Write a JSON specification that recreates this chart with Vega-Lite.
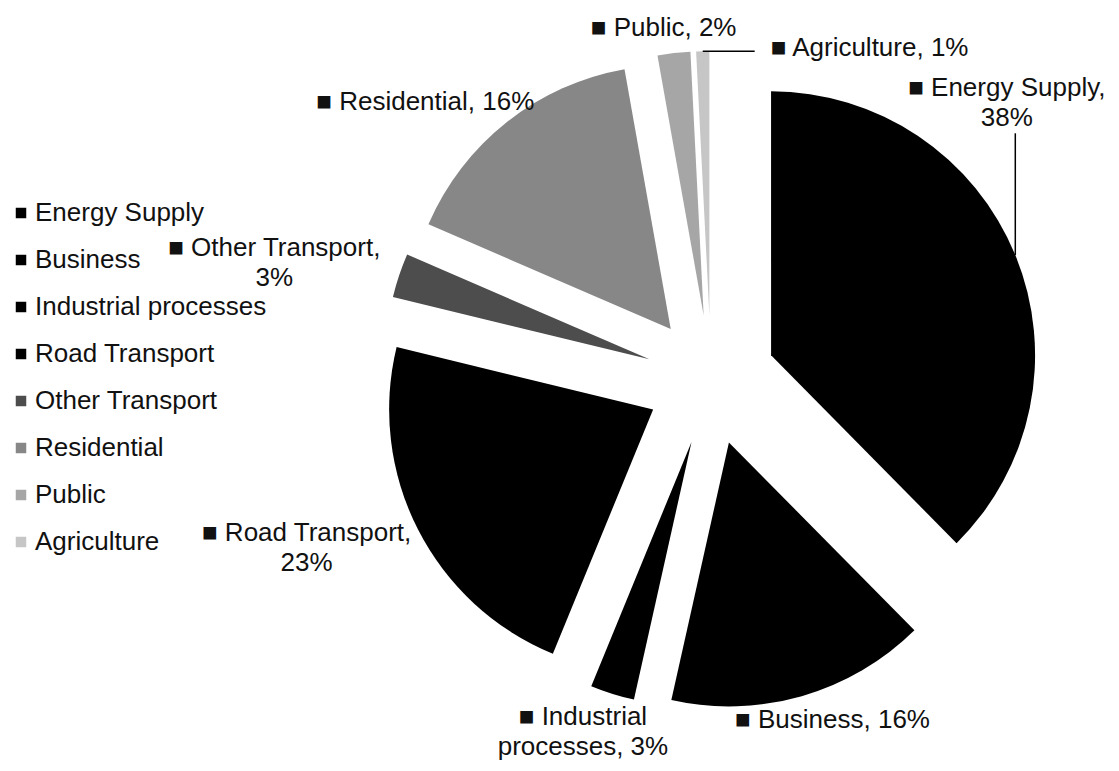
{
  "$schema": "https://vega.github.io/schema/vega-lite/v6.json",
  "width": 1119,
  "height": 771,
  "padding": 0,
  "autosize": {"type": "none"},
  "background": "white",
  "config": {"view": {"stroke": null}, "font": "Liberation Sans"},
  "data": {
    "values": [
      {"sector": "Energy Supply", "value": 37.6, "label": "Energy Supply,\n38%"},
      {"sector": "Business", "value": 15.9, "label": "Business, 16%"},
      {"sector": "Industrial processes", "value": 2.7, "label": "Industrial\nprocesses, 3%"},
      {"sector": "Road Transport", "value": 22.6, "label": "Road Transport,\n23%"},
      {"sector": "Other Transport", "value": 2.7, "label": "Other Transport,\n3%"},
      {"sector": "Residential", "value": 15.7, "label": "Residential, 16%"},
      {"sector": "Public", "value": 2.0, "label": "Public, 2%"},
      {"sector": "Agriculture", "value": 0.8, "label": "Agriculture, 1%"}
    ]
  },
  "transform": [
    {"joinaggregate": [{"op": "sum", "field": "value", "as": "total"}]},
    {"window": [{"op": "row_number", "as": "idx"}]},
    {"window": [{"op": "sum", "field": "value", "as": "cum"}], "sort": [{"field": "idx"}], "frame": [null, 0]},
    {"calculate": "(datum.cum - datum.value) / datum.total * 100", "as": "t0"},
    {"calculate": "datum.cum / datum.total * 100", "as": "t1"},
    {"calculate": "PI * (datum.t0 + datum.t1) / 100", "as": "am"},
    {"window": [{"op": "lag", "field": "am", "as": "prevAm"}], "sort": [{"field": "idx"}]},
    {"calculate": "isValid(datum.prevAm) && datum.am - datum.prevAm < 0.47 ? datum.prevAm + 0.47 : datum.am", "as": "la0"},
    {"calculate": "'■ ' + datum.label", "as": "txt"},
    {"calculate": "split(datum.txt, '\\n')", "as": "lines"},
    {"calculate": "max(length(datum.lines[0]), length(datum.lines) > 1 ? length(datum.lines[1]) : 0) * 0.0256", "as": "hw"},
    {"calculate": "length(datum.lines) * 0.0568", "as": "hh"},
    {"calculate": "(1.53 - datum.hw) / (1.284 + datum.hw)", "as": "rb"},
    {"calculate": "-(2.68 - datum.hw) / (1.284 + datum.hw)", "as": "lb"},
    {"calculate": "sin(datum.la0) > datum.rb ? (cos(datum.la0) >= 0 ? asin(datum.rb) : PI - asin(datum.rb)) : (sin(datum.la0) < datum.lb ? (cos(datum.la0) >= 0 ? asin(datum.lb) : PI - asin(datum.lb)) : datum.la0)", "as": "la"},
    {"calculate": "0.246 * sin(datum.am)", "as": "ox"},
    {"calculate": "0.246 * cos(datum.am)", "as": "oy"},
    {"calculate": "(1.284 + datum.hw) * sin(datum.la)", "as": "cx"},
    {"calculate": "(1.284 + datum.hh) * cos(datum.la)", "as": "cy"},
    {"calculate": "datum.cy + (length(datum.lines) - 1) * 0.0568", "as": "ty"},
    {"calculate": "1.246 * sin(datum.am)", "as": "sx"},
    {"calculate": "1.246 * cos(datum.am)", "as": "sy"},
    {"calculate": "clamp(datum.sx, datum.cx - datum.hw, datum.cx + datum.hw)", "as": "ex2"},
    {"calculate": "clamp(datum.sy, datum.cy - datum.hh, datum.cy + datum.hh)", "as": "ey2"}
  ],
  "layer": [
    {
      "mark": {"type": "arc", "outerRadius": 264, "strokeWidth": 0},
      "encoding": {
        "theta": {"field": "t0", "type": "quantitative", "scale": {"domain": [0, 100]}, "stack": null},
        "theta2": {"field": "t1"},
        "x": {"field": "ox", "type": "quantitative", "scale": {"domain": [-1, 1], "range": [447, 975], "nice": false, "zero": false}, "axis": null},
        "y": {"field": "oy", "type": "quantitative", "scale": {"domain": [-1, 1], "range": [644, 116], "nice": false, "zero": false}, "axis": null},
        "color": {
          "field": "sector",
          "type": "nominal",
          "sort": null,
          "scale": {
            "domain": ["Energy Supply", "Business", "Industrial processes", "Road Transport", "Other Transport", "Residential", "Public", "Agriculture"],
            "range": ["#000000", "#000000", "#000000", "#000000", "#4d4d4d", "#878787", "#a6a6a6", "#c6c6c6"]
          },
          "legend": {
            "orient": "none",
            "legendX": 8,
            "legendY": 200,
            "title": null,
            "padding": 0,
            "symbolType": "square",
            "symbolSize": 110,
            "symbolStrokeWidth": 0,
            "symbolOffset": 0,
            "labelFont": "Liberation Sans",
            "labelFontSize": 26,
            "labelColor": "#111111",
            "labelOffset": 1,
            "labelLimit": 400,
            "rowPadding": 21
          }
        }
      }
    },
    {
      "transform": [{"filter": "abs(datum.la - datum.am) > 0.01"}],
      "mark": {"type": "rule", "color": "#000000", "strokeWidth": 1.5},
      "encoding": {
        "x": {"field": "sx", "type": "quantitative", "axis": null},
        "y": {"field": "sy", "type": "quantitative", "axis": null},
        "x2": {"field": "ex2"},
        "y2": {"field": "ey2"}
      }
    },
    {
      "mark": {"type": "text", "font": "Liberation Sans", "fontSize": 26, "lineBreak": "\n", "lineHeight": 30, "color": "#111111", "align": "center", "baseline": "middle"},
      "encoding": {
        "x": {"field": "cx", "type": "quantitative", "axis": null},
        "y": {"field": "ty", "type": "quantitative", "axis": null},
        "text": {"field": "txt"}
      }
    }
  ]
}
